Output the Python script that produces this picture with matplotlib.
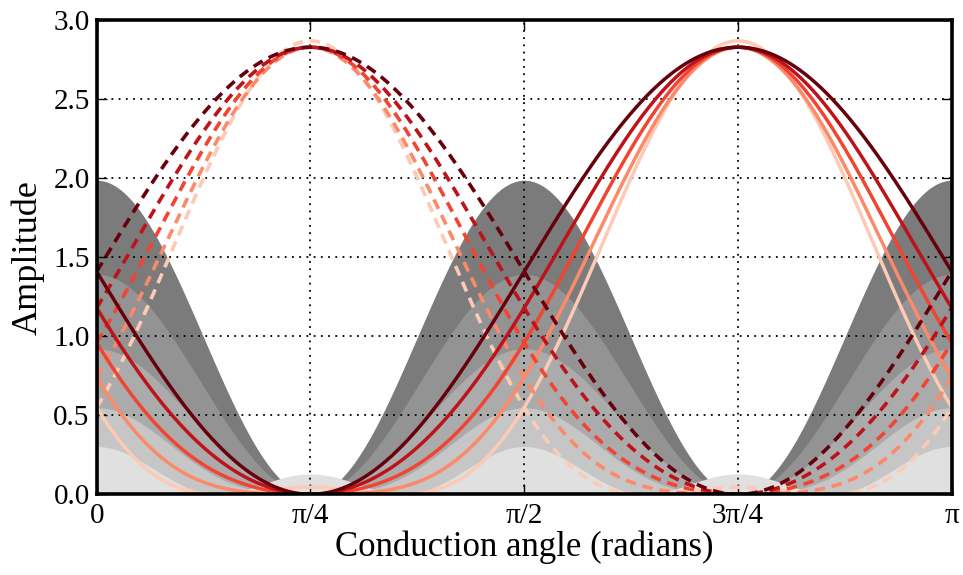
import numpy as np
import matplotlib
matplotlib.use('Agg')
import matplotlib.pyplot as plt
from matplotlib import cm

plt.rcParams['font.family'] = ['Liberation Serif', 'DejaVu Serif']

# amplitude of each waveform at its crest, a quarter period away, and at its trough
peak_amp = [2.83, 2.83, 2.83, 2.83, 2.87]
quarter_amp = [1.41, 1.18, 0.96, 0.74, 0.55]
trough_amp = [0.0, 0.0, 0.0, 0.0, 0.045]

line_levels = [1.0, 0.8, 0.6, 0.4, 0.2]      # position in the Reds map
fill_greys = ['#7b7b7b', '#939393', '#ababab', '#c6c6c6', '#e0e0e0']

x_ticks = [0, np.pi / 4, np.pi / 2, 3 * np.pi / 4, np.pi]
x_ticklabels = ['0', 'π/4', 'π/2', '3π/4', 'π']
y_ticks = [0.0, 0.5, 1.0, 1.5, 2.0, 2.5, 3.0]


def harmonics(peak, quarter, trough):
    # even cosine series c0 + c1 cos(2p) + c2 cos(4p) through the three values
    c1 = (peak - trough) / 2
    c0 = ((peak + trough) / 2 + quarter) / 2
    c2 = ((peak + trough) / 2 - quarter) / 2
    return c0, c1, c2


def wave(phase, coefs):
    c0, c1, c2 = coefs
    return c0 + c1 * np.cos(2 * phase) + c2 * np.cos(4 * phase)


x = np.linspace(0, np.pi, 1500)

fig = plt.figure(figsize=(9.63, 5.75), dpi=100)
ax = fig.add_axes([0.1004, 0.1403, 0.8879, 0.8243])

coefs = [harmonics(p, q, t) for p, q, t in zip(peak_amp, quarter_amp, trough_amp)]

# grey bands: product of the two branches
for c, grey in zip(coefs, fill_greys):
    lead = wave(x - np.pi / 4, c)
    lag = wave(x - 3 * np.pi / 4, c)
    ax.fill_between(x, 0, lead * lag, color=grey, linewidth=0, zorder=1)

# red curves, lightest first so the darkest sits on top
for c, lev in list(zip(coefs, line_levels))[::-1]:
    col = cm.Reds(lev)
    ax.plot(x, wave(x - np.pi / 4, c), color=col, lw=2.6, ls=(0, (2.9, 1.9)), zorder=2)
    ax.plot(x, wave(x - 3 * np.pi / 4, c), color=col, lw=2.5, zorder=2)

ax.set_xlim(0, np.pi)
ax.set_ylim(0, 3.0)
ax.set_xticks(x_ticks)
ax.set_xticklabels(x_ticklabels)
ax.set_yticks(y_ticks)
ax.set_yticklabels(['%.1f' % v for v in y_ticks])

ax.grid(True, color='k', linestyle=(0, (1, 3)), linewidth=1.3)
ax.set_axisbelow('line')

ax.tick_params(direction='in', length=7, width=1, top=True, right=True,
               labelsize=21, pad=6)
ax.tick_params(axis='y', pad=5)
for sp in ax.spines.values():
    sp.set_linewidth(2.6)
    sp.set_zorder(5)

ax.set_xlabel('Conduction angle (radians)', fontsize=25, labelpad=1)
ax.set_ylabel('Amplitude', fontsize=26, labelpad=6)

fig.savefig('out.png', dpi=100)
